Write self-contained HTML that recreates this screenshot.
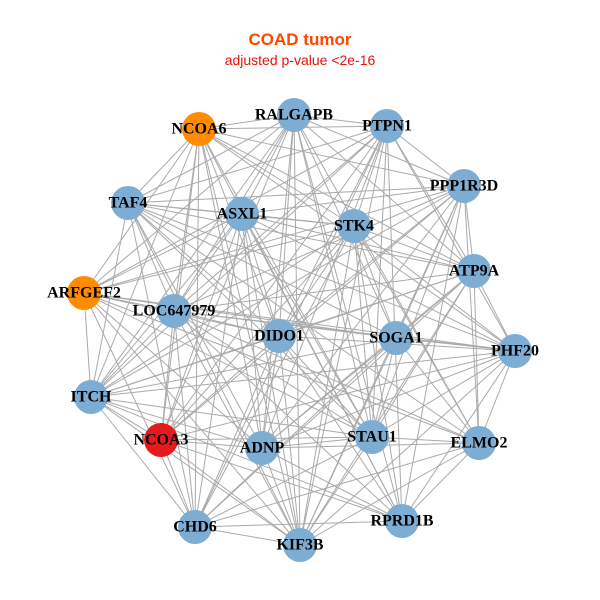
<!DOCTYPE html>
<html><head><meta charset="utf-8"><style>
html,body{margin:0;padding:0;background:#fff;}
svg{display:block}
.l{font-family:"Liberation Serif",serif;font-weight:bold;font-size:16px;fill:#000;text-anchor:middle;dominant-baseline:central}
</style></head><body>
<svg id="s" width="600" height="600" viewBox="0 0 600 600" xmlns="http://www.w3.org/2000/svg">
<rect width="600" height="600" fill="#fff"/>
<text x="300" y="45" text-anchor="middle" font-family="Liberation Sans,sans-serif" font-weight="bold" font-size="17" fill="#ff4500">COAD tumor</text>
<text x="300" y="65" text-anchor="middle" font-family="Liberation Sans,sans-serif" font-size="14" fill="#e8120c">adjusted p-value &lt;2e-16</text>
<g id="edges" stroke="#aaaaaa" stroke-width="1"></g>
<g id="nodes"></g>
<g>
<text class="l" x="294" y="115">RALGAPB</text>
<text class="l" x="387" y="126">PTPN1</text>
<text class="l" x="199" y="129">NCOA6</text>
<text class="l" x="464" y="186">PPP1R3D</text>
<text class="l" x="128" y="203">TAF4</text>
<text class="l" x="242" y="214">ASXL1</text>
<text class="l" x="354" y="226">STK4</text>
<text class="l" x="474" y="271">ATP9A</text>
<text class="l" x="84" y="293">ARFGEF2</text>
<text class="l" x="174" y="311">LOC647979</text>
<text class="l" x="279" y="336">DIDO1</text>
<text class="l" x="396" y="338">SOGA1</text>
<text class="l" x="515" y="351">PHF20</text>
<text class="l" x="91" y="397">ITCH</text>
<text class="l" x="161" y="440">NCOA3</text>
<text class="l" x="262" y="448">ADNP</text>
<text class="l" x="372" y="437">STAU1</text>
<text class="l" x="479" y="443">ELMO2</text>
<text class="l" x="195" y="527">CHD6</text>
<text class="l" x="300" y="545">KIF3B</text>
<text class="l" x="402" y="521">RPRD1B</text>
</g>
</svg>
<script>
var N=[[294,115,0],[387,126,0],[199,129,1],[464,186,0],[128,203,0],[242,214,0],[354,226,0],[474,271,0],[84,293,1],[174,311,0],[279,336,0],[396,338,0],[515,351,0],[91,397,0],[161,440,2],[262,448,0],[372,437,0],[479,443,0],[195,527,0],[300,545,0],[402,521,0]];
var ns="http://www.w3.org/2000/svg",E=document.getElementById("edges"),G=document.getElementById("nodes");
var k=0;
for(var i=0;i<N.length;i++)for(var j=i+1;j<N.length;j++){k++;if(k%6==0)continue;
var l=document.createElementNS(ns,"line");l.setAttribute("x1",N[i][0]);l.setAttribute("y1",N[i][1]);l.setAttribute("x2",N[j][0]);l.setAttribute("y2",N[j][1]);E.appendChild(l);}
var C=["#7eadd3","#ff8c00","#e41a1c"];
N.forEach(function(n){var c=document.createElementNS(ns,"circle");c.setAttribute("cx",n[0]);c.setAttribute("cy",n[1]);c.setAttribute("r",17);c.setAttribute("fill",C[n[2]]);G.appendChild(c);});
</script>
</body></html>
